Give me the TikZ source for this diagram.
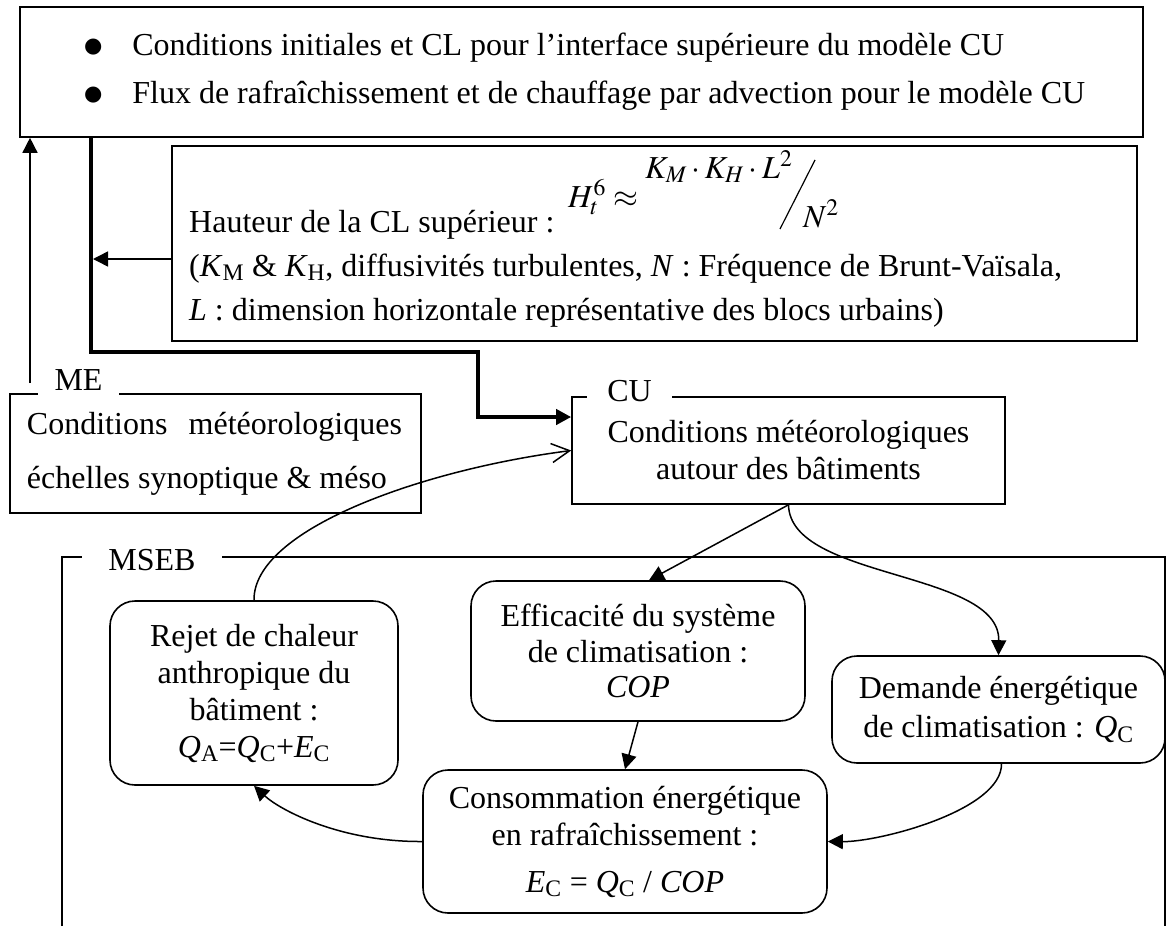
\documentclass[tikz,border=0pt]{standalone}
\usepackage{mathptmx}
\usepackage[no-math]{fontspec}
\setmainfont{Liberation Serif}
\newfontfamily\dejavu{DejaVu Sans}
\usetikzlibrary{arrows.meta}
\tikzset{
  sqbox/.style ={draw, line width=1.6pt, align=center, inner sep=0pt},
  rbox/.style  ={sqbox, rounded corners=25pt},
  tag/.style   ={fill=white, inner sep=0pt, minimum height=30pt},
  txt/.style   ={anchor=base west, inner sep=0pt},
  fl/.style    ={-{Triangle[length=15pt,width=15pt]}, line width=1.5pt},
  thk/.style   ={fl, line width=4pt},
  opn/.style   ={-{Straight Barb[length=18pt,width=19pt]}, line width=1.5pt},
  grp/.style   ={line width=1.6pt}
}
\newcommand{\bigdot}{\raisebox{3pt}{\dejavu\fontsize{21}{21}\selectfont ●}}

\begin{document}
\begin{tikzpicture}[x=1pt,y=-1pt,font=\fontsize{32}{37}\selectfont]
  \useasboundingbox (0,0) rectangle (1166,926);

  % upper boxes
  \node[sqbox, align=left, text width=1123pt, minimum height=130pt,
        font=\fontsize{32}{48}\selectfont](top) at (581.5,72)
    {\spaceskip=0pt\xspaceskip=0pt
     \hspace*{64pt}\bigdot\hspace*{30pt}Conditions initiales et CL pour l’interface supérieure du modèle CU\\
     \hspace*{64pt}\bigdot\hspace*{30pt}Flux de rafraîchissement et de chauffage par advection pour le modèle CU};
  \node[sqbox, minimum width=965pt, minimum height=195pt](form) at (654.5,243.5){};
  \node[txt](haut) at (189,232){Hauteur de la CL supérieur :};
  \node[txt](diff) at (189,276){(\textit{K}\textsubscript{M} \& \textit{K}\textsubscript{H}, diffusivités turbulentes, \textit{N} : Fréquence de Brunt-Vaïsala,};
  \node[txt](dimh) at (189,320){\textit{L} : dimension horizontale représentative des blocs urbains)};
  \node[txt](hform) at (568,207){$H_t^6\approx$};
  \node[txt](knum) at (645,178){$K_M\cdot K_H\cdot L^2$};
  \node[txt](nden) at (803,227){$N^2$};
  \draw[line width=1.2pt] (780,229) -- (815,160);

  % models
  \node[sqbox, align=left, text width=377pt, inner xsep=17pt, minimum height=119pt,
        font=\fontsize{32}{54}\selectfont](me) at (215.5,453.5)
    {\spaceskip=0pt\xspaceskip=0pt
     \makebox[375pt][s]{Conditions météorologiques}\\échelles synoptique \& méso};
  \node[tag, minimum width=81pt](metag) at (78.5,380){ME};
  \node[sqbox, minimum width=433pt, minimum height=107pt](cu) at (788.5,450.5)
    {Conditions météorologiques\\autour des bâtiments};
  \node[tag, minimum width=85pt](cutag) at (629.5,391){CU};

  % MSEB frame
  \draw[grp] (62,926) |- (1165,557) -- (1165,926);
  \node[tag, minimum width=140pt](msebtag) at (152,560){MSEB};

  \node[rbox, minimum width=288pt, minimum height=184pt](rej) at (254,693)
    {Rejet de chaleur\\anthropique du\\bâtiment :\\\textit{Q}\textsubscript{A}=\textit{Q}\textsubscript{C}+\textit{E}\textsubscript{C}};
  \node[rbox, minimum width=334pt, minimum height=140pt,
        font=\fontsize{32}{35.5}\selectfont](eff) at (638,651)
    {Efficacité du système\\de climatisation :\\\textit{COP}};
  \node[rbox, minimum width=333pt, minimum height=107pt,
        font=\fontsize{32}{39}\selectfont](dem) at (998.5,709.5)
    {Demande énergétique\\de climatisation : \textit{Q}\textsubscript{C}};
  \node[rbox, minimum width=404pt, minimum height=143pt](cons) at (625,841.5)
    {Consommation énergétique\\en rafraîchissement :\\[10pt]\textit{E}\textsubscript{C} = \textit{Q}\textsubscript{C} / \textit{COP}};

  % connectors
  \coordinate (upst) at (30,383);
  \coordinate (k1) at (91,352);
  \coordinate (k2) at (478,352);
  \coordinate (k3) at (478,417);
  \coordinate (fa) at (93,259);
  \draw[fl](upst) -- (upst |- top.south);
  \draw[thk](top.south -| k1) -- (k1) -- (k2) -- (k3) -- (cu.west |- k3);
  \draw[fl](form.west |- fa) -- (fa);
  \draw[opn](rej.north) .. controls (253,530) and (420,470) .. (cu.west);
  \draw[fl](cu.south) -- ([xshift=11pt]eff.north);
  \draw[fl](cu.south) .. controls (790,580) and (1000,570) .. (dem.north);
  \draw[fl](eff.south) -- (cons.north);
  \draw[fl]([xshift=3pt]dem.south) .. controls (1002,810) and (880,842) .. (cons.east);
  \draw[fl](cons.west) .. controls (340,842) and (280,810) .. (rej.south);
\end{tikzpicture}
\end{document}
